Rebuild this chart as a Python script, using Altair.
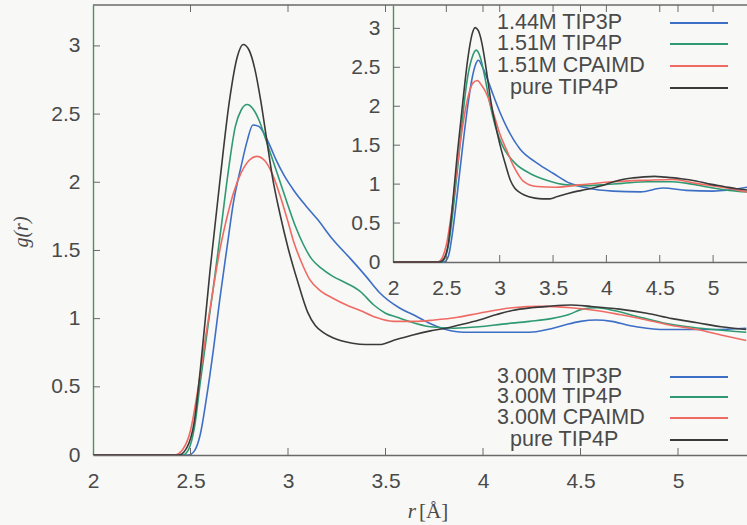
import altair as alt
import pandas as pd

# ---------------- data: main panel (3.00M) ----------------
r_main_tip3p = [2.00, 2.49, 2.52, 2.55, 2.58, 2.62, 2.65, 2.69, 2.72, 2.76, 2.79, 2.82, 2.85, 2.88, 2.91,
                2.94, 2.98, 3.03, 3.09, 3.15, 3.23, 3.32, 3.40, 3.47, 3.57, 3.64, 3.72, 3.81, 3.90, 3.98,
                4.10, 4.24, 4.33, 4.41, 4.50, 4.58, 4.66, 4.75, 4.84, 4.92, 5.05, 5.18, 5.35]
g_main_tip3p = [0.00, 0.00, 0.03, 0.15, 0.40, 0.80, 1.14, 1.55, 1.85, 2.12, 2.30, 2.42, 2.41, 2.35, 2.26,
                2.16, 2.05, 1.94, 1.83, 1.73, 1.58, 1.44, 1.31, 1.19, 1.08, 1.03, 0.97, 0.92, 0.90, 0.90,
                0.90, 0.90, 0.92, 0.95, 0.98, 0.99, 0.98, 0.95, 0.93, 0.92, 0.92, 0.92, 0.93]

r_main_tip4p = [2.00, 2.46, 2.49, 2.52, 2.55, 2.59, 2.62, 2.66, 2.69, 2.73, 2.76, 2.79, 2.82, 2.85, 2.88,
                2.92, 2.96, 3.00, 3.04, 3.08, 3.12, 3.17, 3.23, 3.30, 3.37, 3.44, 3.50, 3.56, 3.62, 3.73,
                3.85, 3.98, 4.10, 4.24, 4.35, 4.44, 4.51, 4.58, 4.67, 4.78, 4.92, 5.05, 5.18, 5.35]
g_main_tip4p = [0.00, 0.00, 0.04, 0.20, 0.53, 0.95, 1.26, 1.70, 2.04, 2.41, 2.53, 2.57, 2.54, 2.46, 2.34,
                2.17, 2.00, 1.83, 1.67, 1.54, 1.44, 1.37, 1.31, 1.26, 1.20, 1.10, 1.04, 1.01, 0.98, 0.94,
                0.93, 0.94, 0.96, 0.98, 1.00, 1.03, 1.07, 1.08, 1.06, 1.02, 0.97, 0.94, 0.92, 0.90]

r_main_cpaimd = [2.00, 2.42, 2.46, 2.50, 2.54, 2.58, 2.62, 2.65, 2.69, 2.72, 2.76, 2.80, 2.84, 2.88, 2.92,
                 2.96, 3.00, 3.03, 3.07, 3.11, 3.17, 3.23, 3.30, 3.37, 3.45, 3.54, 3.65, 3.75, 3.87, 3.98,
                 4.15, 4.30, 4.45, 4.58, 4.70, 4.84, 4.97, 5.10, 5.22, 5.35]
g_main_cpaimd = [0.00, 0.00, 0.04, 0.18, 0.50, 0.89, 1.25, 1.50, 1.76, 1.92, 2.07, 2.16, 2.19, 2.16, 2.06,
                 1.90, 1.71, 1.56, 1.41, 1.29, 1.20, 1.15, 1.10, 1.06, 1.01, 0.98, 0.98, 0.99, 1.01, 1.04,
                 1.08, 1.09, 1.08, 1.06, 1.03, 0.99, 0.95, 0.92, 0.88, 0.84]

# pure TIP4P (same reference curve in both panels)
r_pure = [2.00, 2.44, 2.48, 2.52, 2.55, 2.60, 2.65, 2.70, 2.74, 2.77, 2.80, 2.83, 2.86, 2.89, 2.92,
          2.96, 3.00, 3.05, 3.10, 3.14, 3.18, 3.23, 3.33, 3.40, 3.47, 3.54, 3.64, 3.73, 3.81, 3.90,
          3.98, 4.07, 4.15, 4.25, 4.33, 4.45, 4.55, 4.70, 4.84, 4.97, 5.10, 5.22, 5.35]
g_pure = [0.00, 0.00, 0.05, 0.25, 0.62, 1.35, 2.00, 2.60, 2.92, 3.01, 2.97, 2.83, 2.60, 2.32, 2.04,
          1.76, 1.52, 1.27, 1.05, 0.95, 0.90, 0.86, 0.82, 0.81, 0.81, 0.84, 0.88, 0.91, 0.93, 0.96,
          0.99, 1.03, 1.06, 1.08, 1.09, 1.10, 1.09, 1.07, 1.04, 1.00, 0.97, 0.94, 0.92]

# ---------------- data: inset (1.44M / 1.51M) ----------------
r_in_tip3p = [2.00, 2.48, 2.52, 2.56, 2.60, 2.65, 2.70, 2.74, 2.77, 2.80, 2.84, 2.89, 2.94, 3.00, 3.07,
              3.19, 3.35, 3.50, 3.66, 3.82, 4.06, 4.32, 4.53, 4.75, 5.00, 5.32]
g_in_tip3p = [0.00, 0.00, 0.08, 0.40, 0.85, 1.45, 2.00, 2.35, 2.52, 2.59, 2.50, 2.33, 2.14, 1.93, 1.72,
              1.45, 1.27, 1.14, 1.01, 0.95, 0.91, 0.90, 0.95, 0.92, 0.91, 0.96]

r_in_tip4p = [2.00, 2.45, 2.49, 2.53, 2.57, 2.62, 2.66, 2.70, 2.74, 2.78, 2.82, 2.86, 2.91, 2.96, 3.02,
              3.08, 3.15, 3.28, 3.44, 3.63, 3.80, 3.95, 4.15, 4.38, 4.62, 4.80, 5.00, 5.15, 5.32]
g_in_tip4p = [0.00, 0.00, 0.06, 0.30, 0.75, 1.40, 1.95, 2.38, 2.62, 2.72, 2.62, 2.38, 2.02, 1.74, 1.51,
              1.37, 1.26, 1.14, 1.05, 0.99, 0.98, 0.99, 1.01, 1.03, 1.03, 1.00, 0.95, 0.92, 0.90]

r_in_cpaimd = [2.00, 2.42, 2.46, 2.50, 2.55, 2.60, 2.65, 2.70, 2.75, 2.79, 2.83, 2.87, 2.91, 2.95, 3.00,
               3.07, 3.13, 3.18, 3.22, 3.35, 3.53, 3.75, 4.06, 4.38, 4.62, 4.84, 5.08, 5.32]
g_in_cpaimd = [0.00, 0.00, 0.05, 0.22, 0.65, 1.20, 1.72, 2.10, 2.30, 2.33, 2.27, 2.18, 2.04, 1.87, 1.65,
               1.42, 1.23, 1.11, 1.04, 0.97, 0.96, 0.99, 1.03, 1.05, 1.06, 1.01, 0.96, 0.90]

models = ["TIP3P", "TIP4P", "CPAIMD", "pure"]
colors = ["#3d6fc6", "#2f9a72", "#f06a64", "#3a3a3a"]
main_labels = ["3.00M TIP3P", "3.00M TIP4P", "3.00M CPAIMD", "pure TIP4P"]
inset_labels = ["1.44M TIP3P", "1.51M TIP4P", "1.51M CPAIMD", "pure TIP4P"]
tick_x = [2, 2.5, 3, 3.5, 4, 4.5, 5]
tick_y = [0, 0.5, 1, 1.5, 2, 2.5, 3]


def frame(rs, gs, model):
    return pd.DataFrame({"r": rs, "g": gs, "model": model})


main_df = pd.concat([frame(r_main_tip3p, g_main_tip3p, "TIP3P"),
                     frame(r_main_tip4p, g_main_tip4p, "TIP4P"),
                     frame(r_main_cpaimd, g_main_cpaimd, "CPAIMD"),
                     frame(r_pure, g_pure, "pure")], ignore_index=True)
inset_df = pd.concat([frame(r_in_tip3p, g_in_tip3p, "TIP3P"),
                      frame(r_in_tip4p, g_in_tip4p, "TIP4P"),
                      frame(r_in_cpaimd, g_in_cpaimd, "CPAIMD"),
                      frame(r_pure, g_pure, "pure")], ignore_index=True)

# ---------------- layout ----------------
W, H = 654, 450
MAIN_PX_PER_R = 195.0
MAIN_XMAX = 2 + W / MAIN_PX_PER_R
IN_X0, IN_BOTTOM = 300, 257
IN_PX_PER_R = 106.7
IN_XMAX = 2 + (W - IN_X0) / IN_PX_PER_R
YMAX = 3.3

LABEL_FONT = "Liberation Sans"
SERIF = "Liberation Serif"
AX_GREY = "#6a6a6a"
AX_GREEN = "#4f9060"
TXT = "#4a4a4a"
FS = 21

color_enc = alt.Color("model:N", scale=alt.Scale(domain=models, range=colors), legend=None)


def x_axis(offset=0):
    return alt.Axis(orient="bottom", offset=offset, values=tick_x, format="~g", ticks=False, tickSize=0,
                    labelPadding=15, labelFont=LABEL_FONT, labelFontSize=FS, labelColor=TXT,
                    labelFlush=False, labelOverlap=False, grid=False, domainColor=AX_GREY,
                    domainWidth=1.4, title=None)


def y_axis(offset=0):
    return alt.Axis(orient="left", offset=offset, values=tick_y, format="~g", ticks=False, tickSize=0,
                    labelPadding=13, labelFont=LABEL_FONT, labelFontSize=FS, labelColor=TXT,
                    labelFlush=False, labelOverlap=False, grid=False, domainColor=AX_GREEN,
                    domainWidth=1.4, title=None)


main_xs = alt.Scale(domain=[2, MAIN_XMAX], nice=False, zero=False)
main_ys = alt.Scale(domain=[0, YMAX], nice=False, zero=True)
in_xs = alt.Scale(domain=[2, IN_XMAX], range=[IN_X0, W], nice=False, zero=False)
in_ys = alt.Scale(domain=[0, YMAX], range=[IN_BOTTOM, 0], nice=False, zero=True)

tx_df = pd.DataFrame({"r": tick_x[1:]})
ty_df = pd.DataFrame({"g": tick_y[1:]})
one = alt.Data(values=[{"k": 1}])


def legend_layers(labels, ys):
    layers = []
    for i, (lab, yy) in enumerate(zip(labels, ys)):
        xx = 417 if lab.startswith("pure") else 404
        layers.append(alt.Chart(one).mark_text(text=lab, align="left", baseline="middle",
                                               font=LABEL_FONT, fontSize=21.5, color=TXT)
                      .encode(x=alt.value(xx), y=alt.value(yy)))
        layers.append(alt.Chart(one).mark_rule(color=colors[i], strokeWidth=1.8)
                      .encode(x=alt.value(577), x2=alt.value(635), y=alt.value(yy)))
    return layers


# ---------------- main panel ----------------
main_lines = alt.Chart(main_df).mark_line(strokeWidth=1.6, clip=True, interpolate="monotone").encode(
    x=alt.X("r:Q", scale=main_xs, axis=x_axis()),
    y=alt.Y("g:Q", scale=main_ys, axis=y_axis()),
    color=color_enc,
)
main_xt_bot = alt.Chart(tx_df).mark_rule(color=AX_GREY, strokeWidth=1).encode(
    x=alt.X("r:Q", scale=main_xs), y=alt.value(H), y2=alt.value(H - 7))
main_xt_top = alt.Chart(tx_df).mark_rule(color=AX_GREY, strokeWidth=1).encode(
    x=alt.X("r:Q", scale=main_xs), y=alt.value(0), y2=alt.value(7))
main_yt = alt.Chart(ty_df).mark_rule(color=AX_GREY, strokeWidth=1).encode(
    y=alt.Y("g:Q", scale=main_ys), x=alt.value(0), x2=alt.value(7))
top_border = alt.Chart(one).mark_rule(color=AX_GREY, strokeWidth=1.4).encode(
    x=alt.value(0), x2=alt.value(W), y=alt.value(0))
y_title = alt.Chart(one).mark_text(text="g(r)", angle=270, align="center", baseline="middle",
                                   font=SERIF, fontStyle="italic", fontSize=20, color=TXT).encode(
    x=alt.value(-71), y=alt.value(227))
x_title_r = alt.Chart(one).mark_text(text="r", align="right", baseline="middle",
                                     font=SERIF, fontStyle="italic", fontSize=21, color=TXT).encode(
    x=alt.value(323), y=alt.value(507))
x_title_u = alt.Chart(one).mark_text(text="[Å]", align="left", baseline="middle",
                                     font=SERIF, fontSize=21, color=TXT).encode(
    x=alt.value(326), y=alt.value(507))

main_group = alt.layer(main_lines, main_xt_bot, main_xt_top, main_yt, top_border,
                       y_title, x_title_r, x_title_u,
                       *legend_layers(main_labels, [372, 392, 413, 435]))

# ---------------- inset ----------------
in_lines = alt.Chart(inset_df).mark_line(strokeWidth=1.6, clip=True, interpolate="monotone").encode(
    x=alt.X("r:Q", scale=in_xs, axis=x_axis(offset=-(H - IN_BOTTOM))),
    y=alt.Y("g:Q", scale=in_ys, axis=y_axis(offset=-IN_X0)),
    color=color_enc,
)
in_xt_bot = alt.Chart(tx_df).mark_rule(color=AX_GREY, strokeWidth=1).encode(
    x=alt.X("r:Q", scale=in_xs), y=alt.value(IN_BOTTOM), y2=alt.value(IN_BOTTOM - 7))
in_xt_top = alt.Chart(tx_df).mark_rule(color=AX_GREY, strokeWidth=1).encode(
    x=alt.X("r:Q", scale=in_xs), y=alt.value(0), y2=alt.value(7))
in_yt = alt.Chart(ty_df).mark_rule(color=AX_GREY, strokeWidth=1).encode(
    y=alt.Y("g:Q", scale=in_ys), x=alt.value(IN_X0), x2=alt.value(IN_X0 + 7))

inset_group = alt.layer(in_lines, in_xt_bot, in_xt_top, in_yt,
                        *legend_layers(inset_labels, [18, 39, 61, 83]))

chart = alt.layer(main_group, inset_group).resolve_scale(
    x="independent", y="independent"
).properties(
    width=W, height=H,
    autosize=alt.AutoSizeParams(type="none"),
    padding={"left": 93, "top": 5, "right": 0, "bottom": 70},
    background="#f8f8f6",
).configure_view(stroke=None)

chart.save("out.html", embed_options={"renderer": "svg", "actions": False})
